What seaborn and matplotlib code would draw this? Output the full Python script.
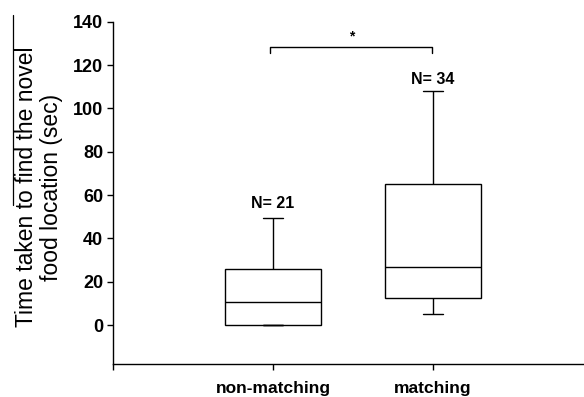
import matplotlib
matplotlib.use("Agg")
import matplotlib.pyplot as plt
import matplotlib.lines as mlines
import seaborn as sns
import pandas as pd

# Five-number summaries (min, Q1, median, Q3, max)
categories = ["non-matching", "matching"]
nonmatching_summary = [0.0, 0.0, 10.8, 25.7, 49.5]
matching_summary = [5.0, 12.6, 26.6, 65.0, 108.0]
n_labels = ["N= 21", "N= 34"]
n_label_y = [56, 113.5]
y_ticks = [0, 20, 40, 60, 80, 100, 120, 140]

sns.set_style("ticks")
plt.rcParams["font.family"] = ["Liberation Sans", "DejaVu Sans"]
plt.rcParams["text.color"] = "black"
plt.rcParams["axes.labelcolor"] = "black"
plt.rcParams["xtick.color"] = "black"
plt.rcParams["ytick.color"] = "black"

df = pd.DataFrame({
    "group": [categories[0]] * len(nonmatching_summary) + [categories[1]] * len(matching_summary),
    "time": nonmatching_summary + matching_summary,
})

fig = plt.figure(figsize=(5.84, 3.97), dpi=100)
ax = fig.add_axes([113 / 584, 1 - 364 / 397, 471 / 584, (364 - 21.7) / 397])

line_kw = dict(color="black", linewidth=1.0)
sns.boxplot(
    data=df, x="group", y="time", order=categories, ax=ax,
    width=0.6, whis=(0, 100), color="white", fill=True,
    boxprops=dict(facecolor="white", edgecolor="black", linewidth=1.0),
    medianprops=line_kw, whiskerprops=line_kw, capprops=line_kw,
    showfliers=False,
)

# narrow whisker caps
for ln in ax.lines:
    xd = list(ln.get_xdata())
    yd = list(ln.get_ydata())
    if len(xd) == 2 and yd[0] == yd[1]:
        c = (xd[0] + xd[1]) / 2
        half = abs(xd[1] - xd[0]) / 2
        if half < 0.25:
            ln.set_xdata([c - 0.06, c + 0.06])

ax.set_xlim(-1.0, 1.944)
ax.set_ylim(-18, 140)
ax.set_yticks(y_ticks)
ax.set_yticklabels([str(t) for t in y_ticks], fontsize=13, fontweight="bold")
ax.set_xticks([-1, 0, 1])
ax.set_xticklabels(["", categories[0], categories[1]], fontsize=12.5, fontweight="bold")
ax.tick_params(axis="both", direction="out", length=4, width=1.0, color="black",
               labelcolor="black", pad=4)
ax.tick_params(axis="y", pad=3)
ax.tick_params(axis="x", pad=8)
for s in ["top", "right"]:
    ax.spines[s].set_visible(False)
for s in ["left", "bottom"]:
    ax.spines[s].set_linewidth(1.0)
    ax.spines[s].set_color("black")

ax.set_xlabel("")
ax.set_ylabel("Time taken to find the novel\nfood location (sec)", fontsize=16.5,
              linespacing=1.1, color="black")
ax.yaxis.set_label_coords(-0.106, 0.517)

for i, (lab, yv) in enumerate(zip(n_labels, n_label_y)):
    ax.text(i, yv, lab, ha="center", va="center", fontsize=11.5, fontweight="semibold",
            color="black")

# significance bracket
ax.plot([-0.02, -0.02, 0.995, 0.995], [125.5, 128.2, 128.2, 125.5], color="black",
        linewidth=1.0, clip_on=False)
ax.text(0.49, 133, "*", ha="center", va="center", fontsize=10, fontweight="bold",
        color="black")

# scan line beside the axis label
fig.add_artist(mlines.Line2D([13.3 / 584, 13.3 / 584], [1 - 15 / 397, 1 - 205 / 397],
                             color="black", linewidth=0.9))

fig.savefig("out.png", dpi=100, facecolor="white")
